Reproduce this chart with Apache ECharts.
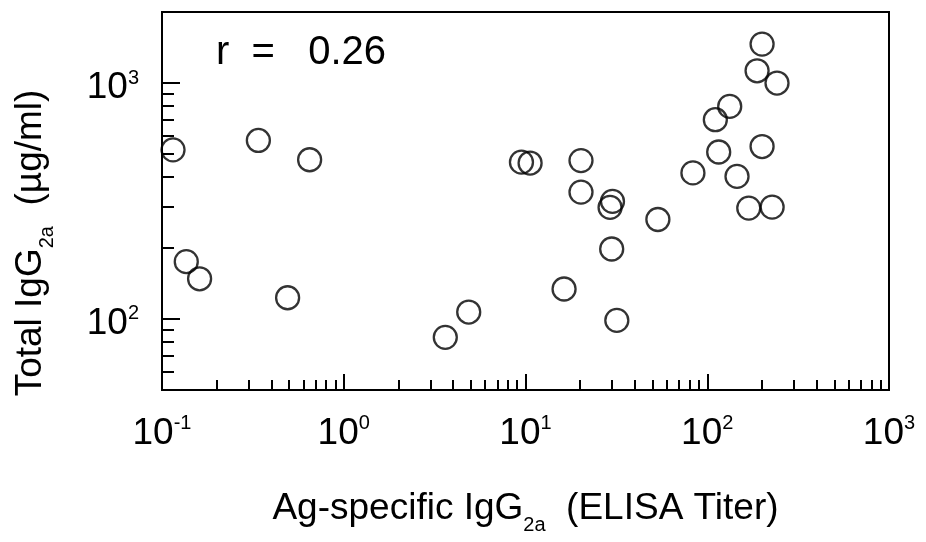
<!DOCTYPE html>
<html>
<head>
<meta charset="utf-8">
<script src="https://cdn.jsdelivr.net/npm/echarts@6/dist/echarts.min.js"></script>
<style>
html,body{margin:0;padding:0;background:#fff;}
#chart{width:926px;height:542px;}
</style>
</head>
<body>
<div id="chart"></div>
<script>
// Ag-specific IgG2a ELISA titer (x) and total IgG2a in ug/ml (y)
var agTiter = [0.115, 0.339, 0.649, 0.136, 0.161, 0.491, 3.62, 4.87,
  9.5, 10.6, 20.2, 20.2, 30.1, 29.2, 53.5, 29.8, 16.3, 31.8,
  83.4, 115.6, 110.8, 132.9, 188, 200.3, 242, 200.3, 145.8, 169.2, 227.5];
var totalIgG = [521, 571, 473, 175, 148, 123, 83.6, 107,
  462, 458, 469, 345, 315, 297, 264, 198, 134, 98.6,
  416, 510, 699, 796, 1127, 1462, 1000, 538, 402, 295, 298];

var xMajorTicks = [0.1, 1, 10, 100, 1000];
var xMinorTicks = [0.2,0.3,0.4,0.5,0.6,0.7,0.8,0.9, 2,3,4,5,6,7,8,9,
  20,30,40,50,60,70,80,90, 200,300,400,500,600,700,800,900];
var yMajorTicks = [100, 1000];
var yMinorTicks = [60,70,80,90, 200,300,400,500,600,700,800,900];
var correlationText = 'r  =   0.26';

var FONT = "'Liberation Sans', Arial, Helvetica, sans-serif";
var points = agTiter.map(function (x, i) { return [x, totalIgG[i]]; });

function powLabel(v) {
  var e = Math.round(Math.log10(v));
  return '{b|10}{s|' + e + '}';
}
var powRich = {
  b: { fontSize: 37, fontFamily: FONT, color: '#000', padding: [10, 0, 0, 0] },
  s: { fontSize: 20, fontFamily: FONT, color: '#000', padding: [0, 0, 10, 0] }
};
var titleRich = {
  m: { fontSize: 37, fontFamily: FONT, color: '#000' },
  sub: { fontSize: 20, fontFamily: FONT, color: '#000', padding: [32, 0, 0, 0] }
};

var chart = echarts.init(document.getElementById('chart'), null, { renderer: 'canvas' });
var commonX = { type: 'log', logBase: 10, min: 0.1, max: 1000, position: 'bottom', splitLine: { show: false }, minorTick: { show: false } };
var commonY = { type: 'log', logBase: 10, min: 50, max: 2000, position: 'left', splitLine: { show: false }, minorTick: { show: false } };

chart.setOption({
  animation: false,
  backgroundColor: '#fff',
  grid: {
    left: 162, top: 12, right: 37, bottom: 152,
    show: true, borderColor: '#000', borderWidth: 2, backgroundColor: 'transparent'
  },
  xAxis: [
    Object.assign({}, commonX, {
      name: '{m|Ag-specific IgG}{sub|2a}{m|  (ELISA Titer)}',
      nameLocation: 'middle', nameGap: 93,
      nameTextStyle: { rich: titleRich },
      axisLine: { show: true, lineStyle: { color: '#000', width: 2 } },
      axisTick: { show: true, inside: true, length: 16, customValues: xMajorTicks, lineStyle: { color: '#000', width: 2 } },
      axisLabel: { show: true, customValues: xMajorTicks, margin: 15, formatter: powLabel, rich: powRich }
    }),
    Object.assign({}, commonX, {
      axisLine: { show: false },
      axisTick: { show: true, inside: true, length: 10, customValues: xMinorTicks, lineStyle: { color: '#000', width: 2 } },
      axisLabel: { show: false }
    })
  ],
  yAxis: [
    Object.assign({}, commonY, {
      name: '{m|Total IgG}{sub|2a}{m|  (µg/ml)}',
      nameLocation: 'middle', nameGap: 105,
      nameTextStyle: { rich: titleRich, padding: [0, 84, 0, 0] },
      axisLine: { show: true, lineStyle: { color: '#000', width: 2 } },
      axisTick: { show: true, inside: true, length: 18, customValues: yMajorTicks, lineStyle: { color: '#000', width: 2 } },
      axisLabel: { show: true, customValues: yMajorTicks, margin: 23, formatter: powLabel, rich: powRich }
    }),
    Object.assign({}, commonY, {
      axisLine: { show: false },
      axisTick: { show: true, inside: true, length: 12, customValues: yMinorTicks, lineStyle: { color: '#000', width: 2 } },
      axisLabel: { show: false }
    })
  ],
  graphic: [{
    type: 'text', left: 216, top: 33, silent: true,
    style: { text: correlationText, font: '40px ' + FONT, fill: '#000' }
  }],
  series: [{
    type: 'scatter',
    xAxisIndex: 0, yAxisIndex: 0,
    data: points,
    symbol: 'circle',
    symbolSize: 23,
    silent: true,
    itemStyle: { color: 'rgba(0,0,0,0)', borderColor: '#000', borderWidth: 2.3 }
  }]
});
</script>
</body>
</html>
